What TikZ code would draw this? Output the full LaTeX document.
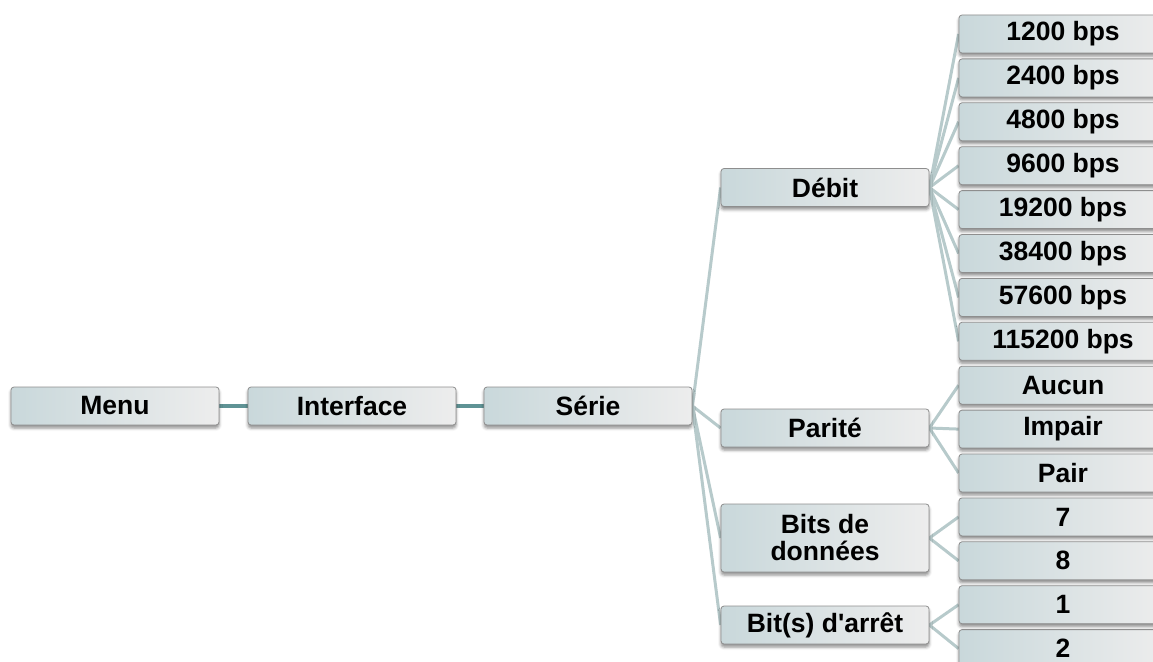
\documentclass[tikz,border=0pt]{standalone}
\usepackage{fontspec}
\setmainfont{Liberation Sans}
\usetikzlibrary{shadows.blur,backgrounds}
\definecolor{boxleft}{HTML}{C9D8DB}
\definecolor{boxright}{HTML}{EDEDED}
\definecolor{boxline}{HTML}{8E8E8E}
\definecolor{linkdark}{HTML}{5F9395}
\definecolor{linklight}{HTML}{B7CACB}
\begin{document}
\begin{tikzpicture}[x=1pt,y=-1pt,
 menubox/.style={draw=boxline, line width=0.8pt, rounded corners=3pt,
   left color=boxleft, right color=boxright,
   minimum width=208pt, minimum height=38pt, inner sep=0pt,
   font=\fontsize{26.5}{27}\selectfont\bfseries, align=center,
   blur shadow={shadow xshift=0pt, shadow yshift=-3pt, shadow blur radius=3pt, shadow opacity=45}},
 tallbox/.style={menubox, minimum height=68pt},
 link/.style={line width=3pt, draw=linklight},
 mainlink/.style={line width=3.5pt, draw=linkdark}]
\useasboundingbox (0,0) rectangle (1153,661);
\clip (0,0) rectangle (1153,661);
\node[menubox] (menu) at (115,406) {Menu};
\node[menubox] (iface) at (352,406) {Interface};
\node[menubox] (serie) at (588,406) {Série};
\node[menubox] (debit) at (825,187.5) {Débit};
\node[menubox] (parite) at (825,428) {Parité};
\node[tallbox] (bits) at (825,538) {Bits de\\données};
\node[menubox] (stop) at (825,625) {Bit(s) d\textquotesingle arrêt};
\foreach \t [count=\i from 0] in {1200 bps,2400 bps,4800 bps,9600 bps,19200 bps,38400 bps,57600 bps,115200 bps,Aucun,Impair,Pair,7,8,1,2}
  \node[menubox] (l\i) at (1063,{34+43.9*\i}) {\t};
\begin{scope}[on background layer]
\draw[mainlink] (menu.east) -- (iface.west);
\draw[mainlink] (iface.east) -- (serie.west);
\foreach \c in {debit,parite,bits,stop}
  \draw[link] (serie.east) -- (\c.west);
\foreach \i in {0,...,7}
  \draw[link] (debit.east) -- (l\i.west);
\foreach \i in {8,9,10}
  \draw[link] (parite.east) -- (l\i.west);
\foreach \i in {11,12}
  \draw[link] (bits.east) -- (l\i.west);
\foreach \i in {13,14}
  \draw[link] (stop.east) -- (l\i.west);
\end{scope}
\end{tikzpicture}
\end{document}
